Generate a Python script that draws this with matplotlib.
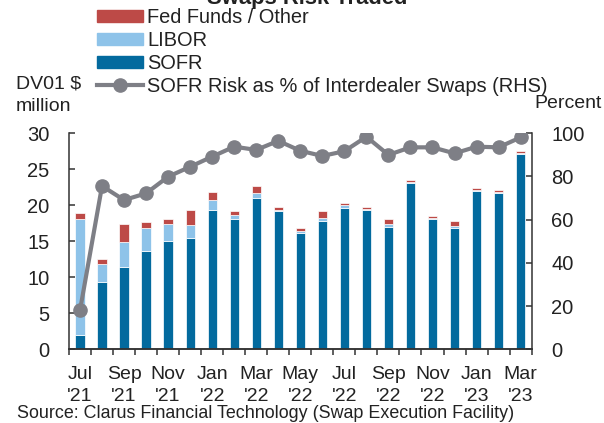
import matplotlib
matplotlib.use("Agg")
import matplotlib.pyplot as plt
from matplotlib.patches import Patch
from matplotlib.lines import Line2D

plt.rcParams['font.family'] = ['Liberation Sans', 'DejaVu Sans']

months = ["Jul\n'21", "Aug\n'21", "Sep\n'21", "Oct\n'21", "Nov\n'21", "Dec\n'21",
          "Jan\n'22", "Feb\n'22", "Mar\n'22", "Apr\n'22", "May\n'22", "Jun\n'22",
          "Jul\n'22", "Aug\n'22", "Sep\n'22", "Oct\n'22", "Nov\n'22", "Dec\n'22",
          "Jan\n'23", "Feb\n'23", "Mar\n'23"]

# DV01 $ million
sofr = [2.0, 9.35, 11.5, 13.65, 15.1, 15.5, 19.35, 18.1, 21.0, 19.2, 16.2,
        17.8, 19.6, 19.4, 17.0, 23.1, 18.1, 16.85, 22.0, 21.7, 27.1]
libor = [16.05, 2.55, 3.4, 3.2, 2.3, 1.8, 1.35, 0.5, 0.7, 0.2, 0.2,
         0.4, 0.4, 0.05, 0.4, 0.1, 0.2, 0.25, 0.1, 0.1, 0.1]
fed_other = [0.85, 0.6, 2.55, 0.85, 0.7, 2.0, 1.2, 0.6, 1.0, 0.4, 0.45,
             1.0, 0.3, 0.25, 0.65, 0.3, 0.25, 0.7, 0.25, 0.3, 0.4]

# SOFR risk as % of interdealer swaps
sofr_pct = [18, 75.6, 69.1, 72.2, 79.9, 84.5, 89.2, 93.8, 92.3, 96.5, 91.9,
            89.5, 91.7, 98.4, 90.0, 93.5, 93.5, 90.7, 93.8, 93.5, 98.1]

c_sofr = '#036a9e'
c_libor = '#8ec3e9'
c_fed = '#bd4a47'
c_line = '#7e7f86'
c_txt = '#222222'

x = list(range(len(months)))
base2 = [a + b for a, b in zip(sofr, libor)]

fig = plt.figure(figsize=(6.04, 4.23), dpi=100)
ax = fig.add_axes([0.1142, 0.1742, 0.766, 0.5107])

ax.bar(x, sofr, width=0.42, color=c_sofr, edgecolor='white', linewidth=0.5)
ax.bar(x, libor, width=0.42, bottom=sofr, color=c_libor, edgecolor='white', linewidth=0.5)
ax.bar(x, fed_other, width=0.42, bottom=base2, color=c_fed, edgecolor='white', linewidth=0.5)

ax.set_xlim(-0.5, len(months) - 0.5)
ax.set_ylim(0, 30)
ax.set_yticks([0, 5, 10, 15, 20, 25, 30])
ax.set_xticks(x[::2])
ax.set_xticklabels(months[::2])
ax.set_xticks([i - 0.5 for i in range(len(months) + 1)], minor=True)
ax.tick_params(axis='x', which='major', length=0, pad=12, labelsize=14, colors=c_txt)
ax.tick_params(axis='x', which='minor', length=4, width=1.1, direction='out', color='#333333')
ax.tick_params(axis='y', direction='in', length=4.5, width=1.1, pad=14, labelsize=14.5,
               colors=c_txt, color='#333333')
for lab in ax.get_xticklabels():
    lab.set_linespacing(1.35)

ax2 = ax.twinx()
ax2.plot(x, sofr_pct, color=c_line, linewidth=3, marker='o', markersize=9.5)
ax2.set_ylim(0, 100)
ax2.set_yticks([0, 20, 40, 60, 80, 100])
ax2.tick_params(axis='y', direction='in', length=4.5, width=1.1, pad=14, labelsize=14.5,
                colors=c_txt, color='#333333')

for a in (ax, ax2):
    a.spines['top'].set_visible(False)
    for s in a.spines.values():
        s.set_linewidth(1.1)
        s.set_color('#333333')
ax2.spines['left'].set_visible(False)
ax.spines['right'].set_visible(False)

fig.text(16 / 604, 1 - 76 / 423, "DV01 $\nmillion", fontsize=14, color=c_txt,
         va='top', ha='left', linespacing=1.4)
fig.text(602 / 604, 1 - 95 / 423, "Percent", fontsize=14, color=c_txt,
         va='top', ha='right')
fig.text(307 / 604, 1 - 4 / 423, "Swaps Risk Traded", fontsize=15.8, fontweight='bold',
         color=c_txt, ha='center', va='baseline')
fig.text(17 / 604, 1 - 418 / 423, "Source: Clarus Financial Technology (Swap Execution Facility)",
         fontsize=12.9, color=c_txt, ha='left', va='baseline')

handles = [Patch(color=c_fed), Patch(color=c_libor), Patch(color=c_sofr),
           Line2D([], [], color=c_line, linewidth=3, marker='o', markersize=9.5)]
labels = ['Fed Funds / Other', 'LIBOR', 'SOFR', 'SOFR Risk as % of Interdealer Swaps (RHS)']
fig.legend(handles, labels, loc='upper left', bbox_to_anchor=(97 / 604, 1 - 8 / 423),
           frameon=False, fontsize=14.4, borderpad=0, borderaxespad=0,
           handlelength=2.3, handleheight=0.55, handletextpad=0.2, labelspacing=0.2,
           labelcolor=c_txt)

fig.savefig('out.png', dpi=100)
